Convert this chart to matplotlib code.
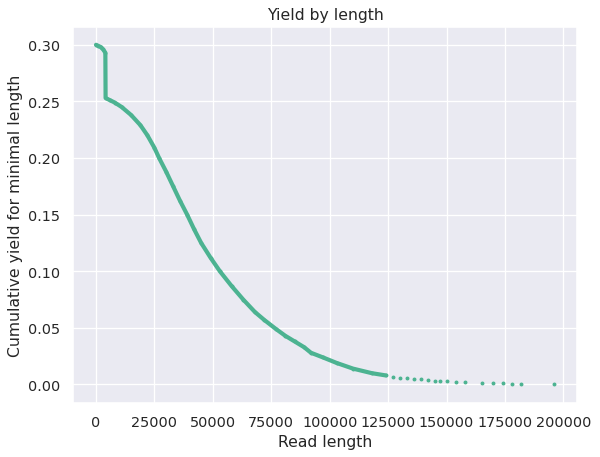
import matplotlib
matplotlib.use("Agg")
from matplotlib import pyplot as plt
import seaborn as sns

sns.set_theme(style="darkgrid")

# dense part of the curve
lengths = [0, 1000, 2000, 3000, 4000, 4100, 6000, 8000, 11000, 15000, 19000, 22000,
           25000, 27000, 30000, 33000, 36000, 39000, 42000, 45000, 49000, 53000,
           58000, 63000, 68000, 72000, 77000, 81000, 85000, 89000, 92000, 97000,
           103000, 110000, 118000, 124000]
yields = [0.300, 0.299, 0.298, 0.296, 0.293, 0.253, 0.251, 0.249, 0.245, 0.238, 0.229,
          0.220, 0.209, 0.200, 0.188, 0.175, 0.162, 0.150, 0.137, 0.125, 0.112, 0.100,
          0.087, 0.075, 0.064, 0.057, 0.049, 0.043, 0.038, 0.033, 0.028, 0.024,
          0.019, 0.014, 0.010, 0.008]

# sparse tail points
tail_lengths = [127000, 130000, 133000, 136000, 139000, 142000, 145000, 147000,
                150000, 154000, 158000, 165000, 170000, 174000, 178000, 182000, 196000]
tail_yields = [0.007, 0.006, 0.0055, 0.005, 0.0045, 0.004, 0.0035, 0.003,
               0.0028, 0.0025, 0.002, 0.0015, 0.0012, 0.001, 0.0008, 0.0005, 0.0]

color = "#4CB391"
fig, ax = plt.subplots(figsize=(6.4, 4.885), dpi=93.75)
ax.plot(lengths, yields, color=color, lw=3.2, solid_capstyle="round")
ax.scatter(lengths, yields, color=color, s=4)
ax.scatter(tail_lengths, tail_yields, color=color, s=4)
ax.set_xlabel("Read length")
ax.set_ylabel("Cumulative yield for minimal length")
ax.set_title("Yield by length")
ax.set_xticks([0, 25000, 50000, 75000, 100000, 125000, 150000, 175000, 200000])
ax.set_xlim(-10000, 206000)
ax.set_ylim(-0.016, 0.316)
plt.tight_layout(pad=0.5)
plt.savefig("out.png")
